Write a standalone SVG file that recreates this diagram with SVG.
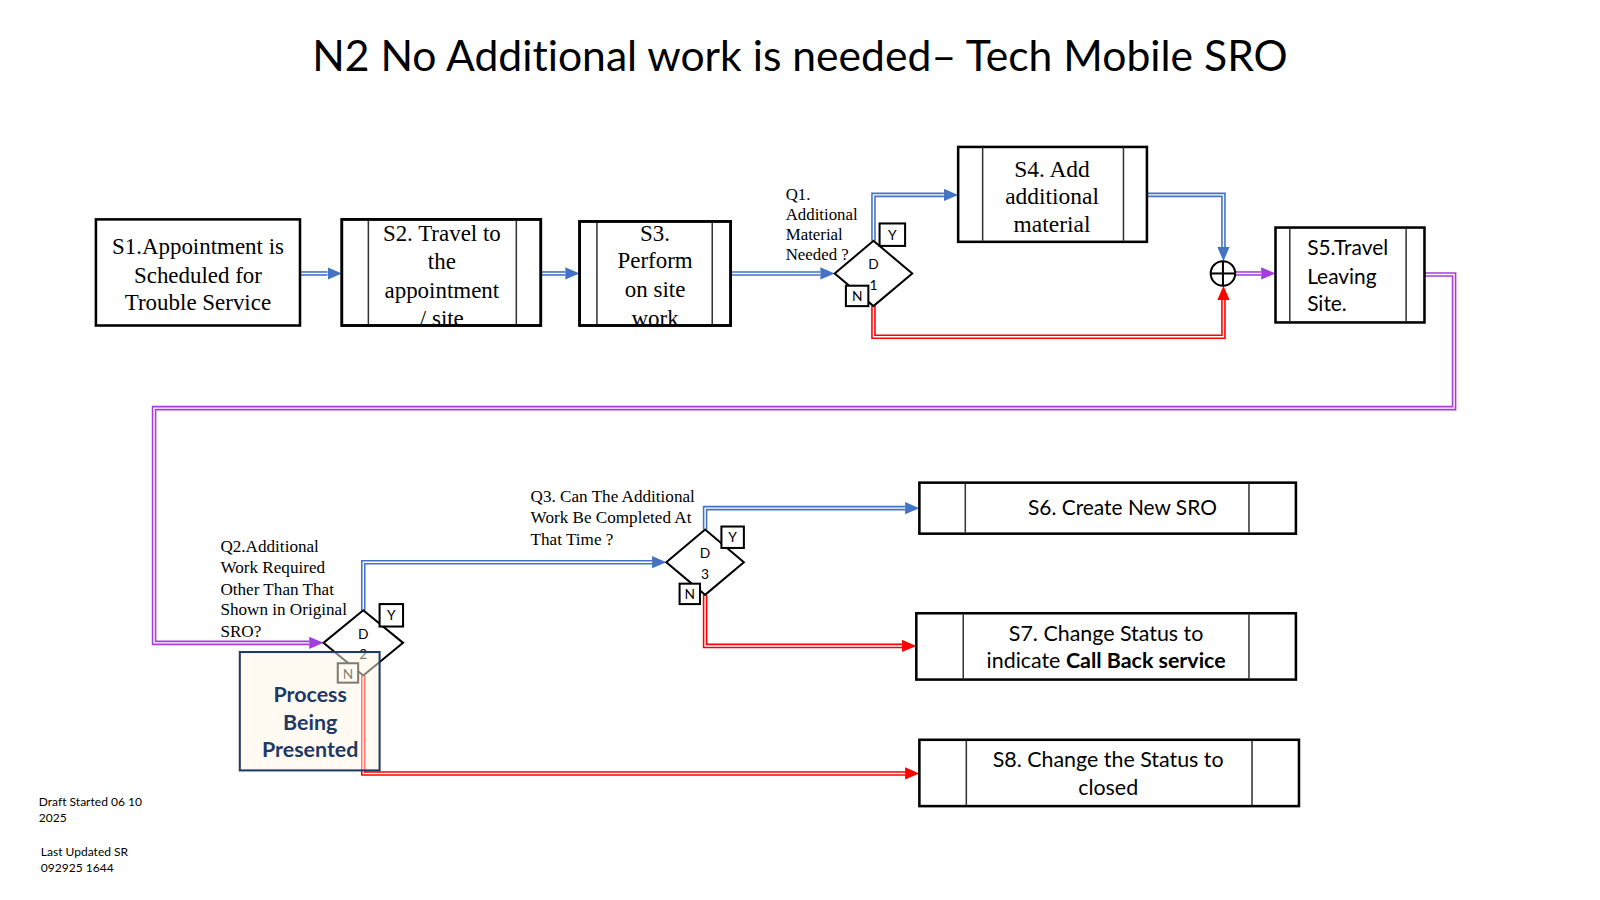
<svg xmlns="http://www.w3.org/2000/svg" width="1600" height="900" viewBox="0 0 1600 900">
<style>
.box{fill:#fff;stroke:#000;stroke-width:2.5}
.in{stroke:#333;stroke-width:1.5}
.serif{font-family:"Liberation Serif","Times New Roman",serif;fill:#000}
.sans{font-family:Lato,"Liberation Sans",Arial,sans-serif;fill:#000;font-variant-ligatures:none}
.ob{fill:none;stroke:#4472C4;stroke-width:4.5}
.or{fill:none;stroke:#FF0000;stroke-width:4.5}
.op{fill:none;stroke:#A53CE0;stroke-width:4.5}
.wl{fill:none;stroke:#fff;stroke-width:1.4}
.dia{fill:#fff;stroke:#000;stroke-width:2}
.tag{fill:#fff;stroke:#000;stroke-width:2}
.c{text-anchor:middle}
</style>
<defs>
<marker id="ab" markerUnits="userSpaceOnUse" markerWidth="16" markerHeight="14" refX="0" refY="6" orient="auto"><path d="M0,0 L14,6 L0,12 z" fill="#4472C4"/></marker>
<marker id="ar" markerUnits="userSpaceOnUse" markerWidth="16" markerHeight="14" refX="0" refY="6" orient="auto"><path d="M0,0 L14,6 L0,12 z" fill="#FF0000"/></marker>
<marker id="ap" markerUnits="userSpaceOnUse" markerWidth="16" markerHeight="14" refX="0" refY="6" orient="auto"><path d="M0,0 L14,6 L0,12 z" fill="#A53CE0"/></marker>
</defs>
<rect width="1600" height="900" fill="#fff"/>
<g transform="scale(1.0204)">
<text x="784" y="70" class="sans c" font-size="41.8">N2 No Additional work is needed– Tech Mobile SRO</text>

<g id="connectors">
<path id="c1" d="M294,268 H321" class="ob" marker-end="url(#ab)"/><path d="M294,268 H321" class="wl"/>
<path id="c2" d="M530,268 H554" class="ob" marker-end="url(#ab)"/><path d="M530,268 H554" class="wl"/>
<path id="c3" d="M716,268 H804" class="ob" marker-end="url(#ab)"/><path d="M716,268 H804" class="wl"/>
<path id="c4" d="M856,236 V191 H925" class="ob" marker-end="url(#ab)"/><path d="M856,236 V191 H925" class="wl"/>
<path id="c5" d="M1124,191 H1199 V242" class="ob" marker-end="url(#ab)"/><path d="M1124,191 H1199 V242" class="wl"/>
<path id="c6" d="M856,300 V330 H1199 V294" class="or" marker-end="url(#ar)"/><path d="M856,300 V330 H1199 V294" class="wl"/>
<path id="c7" d="M1210,268 H1236" class="op" marker-end="url(#ap)"/><path d="M1210,268 H1236" class="wl"/>
<path id="c8" d="M1396,269 H1425 V400 H151 V630 H303" class="op" marker-end="url(#ap)"/><path d="M1396,269 H1425 V400 H151 V630 H303" class="wl"/>
<path id="c9" d="M356,598 V551 H639" class="ob" marker-end="url(#ab)"/><path d="M356,598 V551 H639" class="wl"/>
<path id="c10" d="M356,662 V758 H887" class="or" marker-end="url(#ar)"/><path d="M356,662 V758 H887" class="wl"/>
<path id="c11" d="M691,519 V498 H887" class="ob" marker-end="url(#ab)"/><path d="M691,519 V498 H887" class="wl"/>
<path id="c12" d="M691,583 V633 H884" class="or" marker-end="url(#ar)"/><path d="M691,583 V633 H884" class="wl"/>
</g>

<g id="S1">
<rect x="94" y="215" width="200" height="104" class="box"/>
<text class="serif c" font-size="22.5"><tspan x="194" y="249">S1.Appointment is</tspan><tspan x="194" y="277">Scheduled for</tspan><tspan x="194" y="304">Trouble Service</tspan></text>
</g>
<g id="S2">
<rect x="335" y="215" width="195" height="104" class="box"/>
<line x1="361" y1="216" x2="361" y2="318" class="in"/><line x1="506" y1="216" x2="506" y2="318" class="in"/>
<text class="serif c" font-size="22.5"><tspan x="433" y="236">S2. Travel to</tspan><tspan x="433" y="264">the</tspan><tspan x="433" y="292">appointment</tspan><tspan x="433" y="319">/ site</tspan></text>
<rect x="335" y="215" width="195" height="104" fill="none" stroke="#000" stroke-width="2.5"/>
</g>
<g id="S3">
<rect x="568" y="217" width="148" height="102" class="box"/>
<line x1="585" y1="218" x2="585" y2="318" class="in"/><line x1="698" y1="218" x2="698" y2="318" class="in"/>
<text class="serif c" font-size="22.5"><tspan x="642" y="236">S3.</tspan><tspan x="642" y="263">Perform</tspan><tspan x="642" y="291">on site</tspan><tspan x="642" y="319">work</tspan></text>
<rect x="568" y="217" width="148" height="102" fill="none" stroke="#000" stroke-width="2.5"/>
</g>
<g id="Q1">
<text class="serif" font-size="16.5"><tspan x="770" y="196">Q1.</tspan><tspan x="770" y="216">Additional</tspan><tspan x="770" y="235">Material</tspan><tspan x="770" y="255">Needed ?</tspan></text>
</g>
<g id="D1">
<path d="M818,268 L856,236 L894,268 L856,300 Z" class="dia"/>
<text class="sans c" font-size="13.5"><tspan x="856" y="264">D</tspan><tspan x="856" y="284">1</tspan></text>
<rect x="862" y="219" width="25" height="22" class="tag"/><text x="874.5" y="235" class="sans c" font-size="13.5">Y</text>
<rect x="829" y="280" width="22" height="20" class="tag"/><text x="840" y="295" class="sans c" font-size="13.5">N</text>
</g>
<g id="S4">
<rect x="939" y="144" width="185" height="93" class="box"/>
<line x1="963" y1="145" x2="963" y2="236" class="in"/><line x1="1101" y1="145" x2="1101" y2="236" class="in"/>
<text class="serif c" font-size="23"><tspan x="1031" y="173">S4. Add</tspan><tspan x="1031" y="200">additional</tspan><tspan x="1031" y="227">material</tspan></text>
</g>
<g id="merge">
<circle cx="1198.5" cy="268" r="12" fill="#fff" stroke="#000" stroke-width="2"/>
<line x1="1186.5" y1="268" x2="1210.5" y2="268" stroke="#000" stroke-width="2"/><line x1="1198.5" y1="256" x2="1198.5" y2="280" stroke="#000" stroke-width="2"/>
</g>
<g id="S5">
<rect x="1250" y="223" width="146" height="93" class="box"/>
<line x1="1264" y1="224" x2="1264" y2="315" class="in"/><line x1="1378" y1="224" x2="1378" y2="315" class="in"/>
<text class="sans" font-size="20.5"><tspan x="1281" y="250">S5.Travel</tspan><tspan x="1281" y="278">Leaving</tspan><tspan x="1281" y="305">Site.</tspan></text>
</g>
<g id="Q2">
<text class="serif" font-size="16.8"><tspan x="216" y="541">Q2.Additional</tspan><tspan x="216" y="562">Work Required</tspan><tspan x="216" y="583">Other Than That</tspan><tspan x="216" y="603">Shown in Original</tspan><tspan x="216" y="624">SRO?</tspan></text>
</g>
<g id="D2">
<path d="M317,630 L356,598 L395,630 L356,662 Z" class="dia"/>
<text class="sans c" font-size="13.5"><tspan x="356" y="626">D</tspan><tspan x="356" y="646">2</tspan></text>
<rect x="372" y="592" width="23" height="22" class="tag"/><text x="383.5" y="608" class="sans c" font-size="13.5">Y</text>
<rect x="331" y="650" width="20" height="19" class="tag"/><text x="341" y="665" class="sans c" font-size="13.5">N</text>
</g>
<g id="P">
<rect x="235" y="639" width="137" height="116" fill="#FFF8E8" fill-opacity="0.5" stroke="#1F3864" stroke-width="2"/>
<text class="sans c" font-size="21" font-weight="bold" style="fill:#1F3864"><tspan x="304" y="688">Process</tspan><tspan x="304" y="715">Being</tspan><tspan x="304" y="742">Presented</tspan></text>
</g>
<g id="Q3">
<text class="serif" font-size="16.8"><tspan x="520" y="492">Q3. Can The Additional</tspan><tspan x="520" y="513">Work Be Completed At</tspan><tspan x="520" y="534">That Time ?</tspan></text>
</g>
<g id="D3">
<path d="M653,551 L691,519 L729,551 L691,583 Z" class="dia"/>
<text class="sans c" font-size="13.5"><tspan x="691" y="547">D</tspan><tspan x="691" y="567">3</tspan></text>
<rect x="707" y="516" width="22" height="21" class="tag"/><text x="718" y="531" class="sans c" font-size="13.5">Y</text>
<rect x="666" y="572" width="20" height="20" class="tag"/><text x="676" y="587" class="sans c" font-size="13.5">N</text>
</g>
<g id="S6">
<rect x="901" y="473" width="369" height="50" class="box"/>
<line x1="946" y1="474" x2="946" y2="522" class="in"/><line x1="1224" y1="474" x2="1224" y2="522" class="in"/>
<text x="1100" y="505" class="sans c" font-size="20.5">S6. Create New SRO</text>
</g>
<g id="S7">
<rect x="898" y="601" width="372" height="65" class="box"/>
<line x1="944" y1="602" x2="944" y2="665" class="in"/><line x1="1224" y1="602" x2="1224" y2="665" class="in"/>
<text class="sans c" font-size="21"><tspan x="1084" y="628">S7. Change Status to</tspan><tspan x="1084" y="655">indicate <tspan font-weight="bold">Call Back service</tspan></tspan></text>
</g>
<g id="S8">
<rect x="901" y="725" width="372" height="65" class="box"/>
<line x1="947" y1="726" x2="947" y2="789" class="in"/><line x1="1227" y1="726" x2="1227" y2="789" class="in"/>
<text class="sans c" font-size="21"><tspan x="1086" y="752">S8. Change the Status to</tspan><tspan x="1086" y="779">closed</tspan></text>
</g>
<g id="notes">
<text class="sans" font-size="11.8"><tspan x="38" y="790">Draft Started 06 10</tspan><tspan x="38" y="806">2025</tspan><tspan x="40" y="839">Last Updated SR</tspan><tspan x="40" y="855">092925 1644</tspan></text>
</g>
</g>
</svg>
